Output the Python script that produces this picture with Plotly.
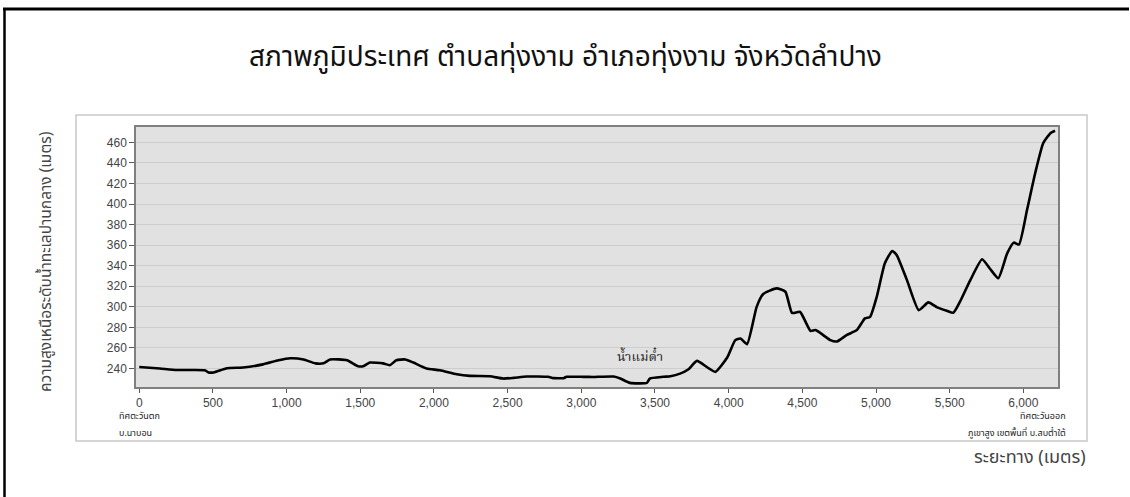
import plotly.graph_objects as go

# ---- data ----
distance_m = [0, 140, 255, 445, 470, 505, 595, 705, 840, 945, 1025, 1115, 1195, 1250, 1295,
              1410, 1485, 1520, 1565, 1655, 1700, 1745, 1805, 1860, 1950, 2040, 2155, 2245,
              2380, 2470, 2540, 2630, 2775, 2810, 2880, 2900, 3015, 3080, 3220, 3265, 3330,
              3445, 3465, 3555, 3605, 3670, 3725, 3785, 3850, 3910, 3990, 4045, 4080, 4125,
              4190, 4235, 4325, 4385, 4430, 4485, 4555, 4590, 4690, 4735, 4800, 4870, 4925,
              4960, 5005, 5060, 5110, 5140, 5210, 5290, 5355, 5415, 5480, 5525, 5570, 5640,
              5720, 5775, 5830, 5890, 5935, 5970, 6025, 6080, 6135, 6185, 6215]
elevation_m = [241.5, 240, 238.5, 238.3, 236.2, 236.2, 240.3, 241, 244, 248, 250, 248.8, 245,
               245, 248.8, 248, 242.2, 242.2, 245.8, 245, 243.2, 248, 248.8, 245.8, 240, 238.3,
               234.4, 232.8, 232.5, 230.2, 230.9, 232.2, 231.9, 230.6, 230.6, 231.9, 231.9,
               231.8, 232.2, 230.2, 226, 226, 230.2, 231.9, 232.5, 235, 239, 247.4, 241.6,
               236.7, 250.7, 267.6, 269.2, 263.7, 300, 312.5, 318, 314.7, 294.2, 295, 276.7,
               277.4, 267.6, 266.3, 272.5, 277.4, 288.8, 290.3, 309.8, 342.4, 354.4, 350.5,
               326, 296.8, 304.3, 299.5, 296.2, 294.2, 305, 326, 346.3, 336.8, 327.8, 352,
               362.5, 360.6, 394.4, 430, 459.4, 469.2, 471.4]
x_ticks = [0, 500, 1000, 1500, 2000, 2500, 3000, 3500, 4000, 4500, 5000, 5500, 6000]
y_ticks = [240, 260, 280, 300, 320, 340, 360, 380, 400, 420, 440, 460]

title_text = "สภาพภูมิประเทศ ตำบลทุ่งงาม อำเภอทุ่งงาม จังหวัดลำปาง"
y_title = "ความสูงเหนือระดับน้ำทะเลปานกลาง (เมตร)"
x_title = "ระยะทาง (เมตร)"
river_label = "น้ำแม่ต๋ำ"
river_x, river_y = 3400, 251
west_lines = ["ทิศตะวันตก", "บ.นาบอน"]
east_lines = ["ทิศตะวันออก", "ภูเขาสูง เขตพื้นที่ บ.สบต๋ำใต้"]

# ---- layout geometry (pixels) ----
W, H = 1130, 497
L, R, T, B = 136, 72, 127, 110
PW, PH = W - L - R, H - T - B


def px(xp):
    return (xp - L) / PW


def py(yp):
    return (H - B - yp) / PH


THAI = "Noto Sans Thai, Noto Sans Thai UI, Tahoma, Noto Sans, sans-serif"
SMALL = dict(family=THAI, size=9, color="#1a1a1a")

fig = go.Figure()
fig.add_trace(go.Scatter(
    x=distance_m, y=elevation_m, mode="lines",
    line=dict(color="#000000", width=2.6, shape="spline", smoothing=0.5),
    hoverinfo="skip", showlegend=False))

shapes = [
    # outer black frame lines (top & left)
    dict(type="line", xref="paper", yref="paper", x0=px(3), x1=px(W - 1), y0=py(9), y1=py(9),
         line=dict(color="#000000", width=3)),
    dict(type="line", xref="paper", yref="paper", x0=px(4.5), x1=px(4.5), y0=py(9), y1=py(H),
         line=dict(color="#000000", width=2.5)),
    # inner light box
    dict(type="rect", xref="paper", yref="paper", x0=px(76), x1=px(1087), y0=py(441), y1=py(115),
         line=dict(color="#c9c9c9", width=1.5), fillcolor="rgba(0,0,0,0)", layer="below"),
]

annotations = [
    dict(text=title_text, xref="paper", yref="paper", x=px(565), y=py(57), showarrow=False,
         xanchor="center", yanchor="middle", font=dict(family=THAI, size=28, color="#111111")),
    dict(text=y_title, xref="paper", yref="paper", x=px(46), y=py(262), showarrow=False,
         textangle=-90, xanchor="center", yanchor="middle",
         font=dict(family=THAI, size=15.5, color="#444444")),
    dict(text=x_title, xref="paper", yref="paper", x=px(1088), y=py(457), showarrow=False,
         xanchor="right", yanchor="middle", font=dict(family=THAI, size=18, color="#444444")),
    dict(text=river_label, x=river_x, y=river_y, xref="x", yref="y", showarrow=False,
         xanchor="center", yanchor="middle",
         font=dict(family="Noto Serif Thai, " + THAI, size=13, color="#222222")),
    dict(text=west_lines[0], xref="paper", yref="paper", x=px(117), y=py(416), showarrow=False,
         xanchor="left", yanchor="middle", font=SMALL),
    dict(text=west_lines[1], xref="paper", yref="paper", x=px(117), y=py(433), showarrow=False,
         xanchor="left", yanchor="middle", font=SMALL),
    dict(text=east_lines[0], xref="paper", yref="paper", x=px(1068), y=py(416), showarrow=False,
         xanchor="right", yanchor="middle", font=SMALL),
    dict(text=east_lines[1], xref="paper", yref="paper", x=px(1068), y=py(433), showarrow=False,
         xanchor="right", yanchor="middle", font=SMALL),
]

TICKFONT = dict(family="Liberation Sans, Arial, sans-serif", size=12, color="#444444")
fig.update_layout(
    width=W, height=H, autosize=False,
    margin=dict(l=L, r=R, t=T, b=B, pad=0),
    paper_bgcolor="#ffffff", plot_bgcolor="#e1e1e1",
    shapes=shapes, annotations=annotations, showlegend=False,
    xaxis=dict(range=[-22, 6235], tickvals=x_ticks, tickformat=",d",
               ticks="outside", ticklen=4, tickcolor="#555555", tickwidth=1,
               showgrid=False, zeroline=False, showline=True, linecolor="#808080", linewidth=1.5,
               mirror=True, tickfont=TICKFONT),
    yaxis=dict(range=[222, 475], tickvals=y_ticks,
               ticks="outside", ticklen=5, tickcolor="#555555", tickwidth=1,
               showgrid=True, gridcolor="#cdcdcd", gridwidth=1, zeroline=False,
               showline=True, linecolor="#808080", linewidth=1.5, mirror=True,
               tickfont=TICKFONT),
)

fig.write_html("out.html", config={"displayModeBar": False},
               post_script="document.body.style.margin='0px';document.body.style.overflow='hidden';")
